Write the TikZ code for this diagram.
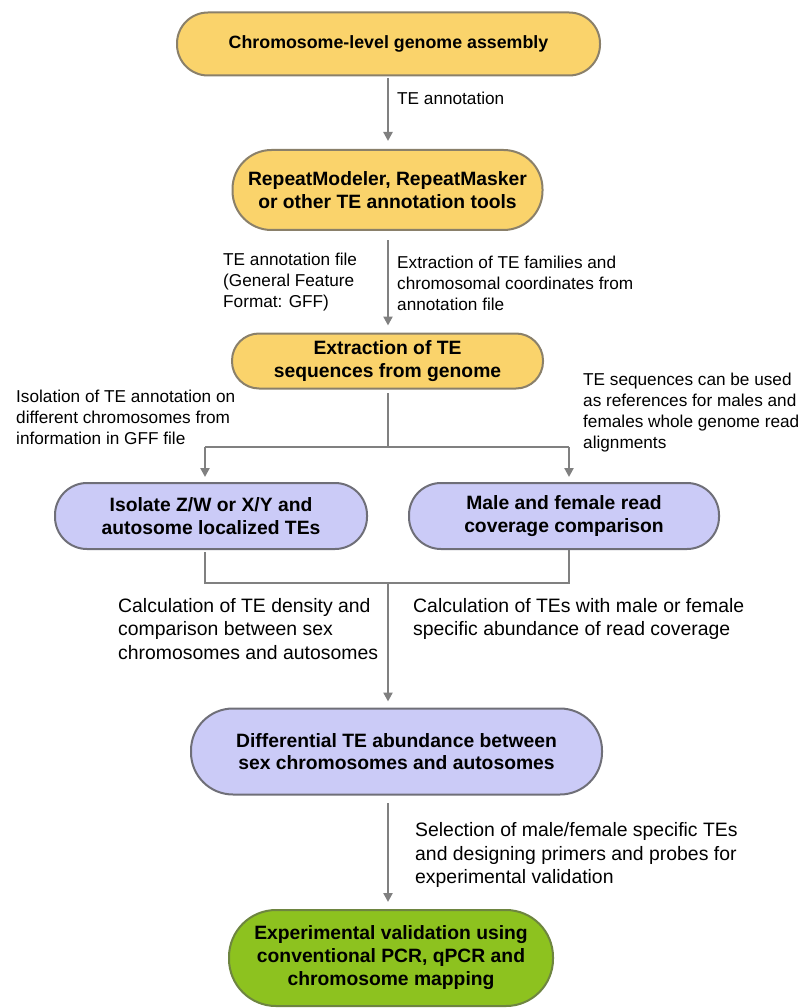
\documentclass[tikz,border=0pt]{standalone}
\usepackage{fontspec}
\setmainfont{Liberation Sans}
\usetikzlibrary{arrows.meta}
\definecolor{yel}{HTML}{FAD36B}
\definecolor{yelb}{HTML}{8A806A}
\definecolor{lav}{HTML}{CBCBF7}
\definecolor{lavb}{HTML}{6F6F78}
\definecolor{grn}{HTML}{8DC21F}
\definecolor{grnb}{HTML}{6E8540}
\definecolor{arr}{HTML}{808080}
\tikzset{
  box/.style={draw, line width=2pt, align=center, inner sep=0pt,
    font=\fontsize{19.3}{22.5}\selectfont\bfseries},
  ybox/.style={box, fill=yel, draw=yelb},
  lbox/.style={box, fill=lav, draw=lavb},
  gbox/.style={box, fill=grn, draw=grnb},
  conn/.style={draw=arr, line width=2.5pt},
  flow/.style={conn, -{Triangle[length=9pt,width=9pt]}},
  lblS/.style={anchor=west, align=left, inner sep=0pt, font=\fontsize{17.2}{21}\selectfont},
  lblL/.style={anchor=west, align=left, inner sep=0pt, font=\fontsize{19.4}{23.5}\selectfont},
}
\begin{document}
\begin{tikzpicture}[x=1pt, y=-1pt]
\path[use as bounding box, fill=white] (0,0) rectangle (801,1008);

\node[ybox, minimum width=423pt, minimum height=63pt, rounded corners=31pt,
  font=\fontsize{17.8}{21}\selectfont\bfseries] (n1) at (388.5,44) {Chromosome-level genome assembly};
\node[ybox, minimum width=310pt, minimum height=80pt, rounded corners=39pt] (n2) at (387.5,190)
  {RepeatModeler, RepeatMasker\\or other TE annotation tools};
\node[ybox, minimum width=311pt, minimum height=55pt, rounded corners=27pt] (n3) at (387.5,361)
  {Extraction of TE\\sequences from genome};
\node[lbox, minimum width=312pt, minimum height=66pt, rounded corners=32pt] (n4) at (211,516)
  {Isolate Z/W or X/Y and\\autosome localized TEs};
\node[lbox, minimum width=310pt, minimum height=66pt, rounded corners=32pt] (n6) at (564,516)
  {Male and female read\\coverage comparison};
\node[lbox, minimum width=411pt, minimum height=86pt, rounded corners=42pt] (n5) at (396.5,751.5)
  {Differential TE abundance between\\sex chromosomes and autosomes};
\node[gbox, minimum width=324pt, minimum height=96pt, rounded corners=47pt,
  font=\fontsize{19.3}{23}\selectfont\bfseries] (n7) at (391,958)
  {Experimental validation using\\conventional PCR, qPCR and\\chromosome mapping};

% connectors
\coordinate (a1) at (388,78);
\coordinate (a2) at (388,240);
\coordinate (a3) at (388,393);
\coordinate (j1) at (388,447);
\coordinate (jl) at (205,447);
\coordinate (jr) at (569,447);
\coordinate (bl) at (205,583);
\coordinate (br) at (569,583);
\coordinate (j2) at (388,583);
\coordinate (a5) at (388,803);

\draw[flow] (a1) -- (a1 |- n2.north) [shorten >=8pt];
\draw[flow, shorten >=7pt] (a2) -- (a2 |- n3.north);
\draw[conn] (a3) -- (j1);
\draw[conn] (jl) -- (jr);
\draw[flow, shorten >=5pt] (jl) -- (jl |- n4.north);
\draw[flow, shorten >=5pt] (jr) -- (jr |- n6.north);
\draw[conn, shorten <=2pt] (jl |- n4.south) -- (bl) -- (br) -- (br |- n6.south);
\draw[flow, shorten >=6pt] (j2) -- (j2 |- n5.north);
\draw[flow, shorten >=7pt] (a5) -- (a5 |- n7.north);

% labels
\node[lblS] (t1) at (397,98) {TE annotation};
\node[lblS] (t2) at (223,282) {TE annotation file\\(General Feature\\Format: GFF)};
\node[lblS] (t3) at (397,283) {Extraction of TE families and\\chromosomal coordinates from\\annotation file};
\node[lblS] (t4) at (16,417) {Isolation of TE annotation on\\different chromosomes from\\information in GFF file};
\node[lblS] (t5) at (583,413) {TE sequences can be used\\as references for males and\\females whole genome read\\alignments};
\node[lblL] (t6) at (118,629) {Calculation of TE density and\\comparison between sex\\chromosomes and autosomes};
\node[lblL] (t7) at (413,619) {Calculation of TEs with male or female\\specific abundance of read coverage};
\node[lblL] (t8) at (415,855) {Selection of male/female specific TEs\\and designing primers and probes for\\experimental validation};
\end{tikzpicture}
\end{document}
